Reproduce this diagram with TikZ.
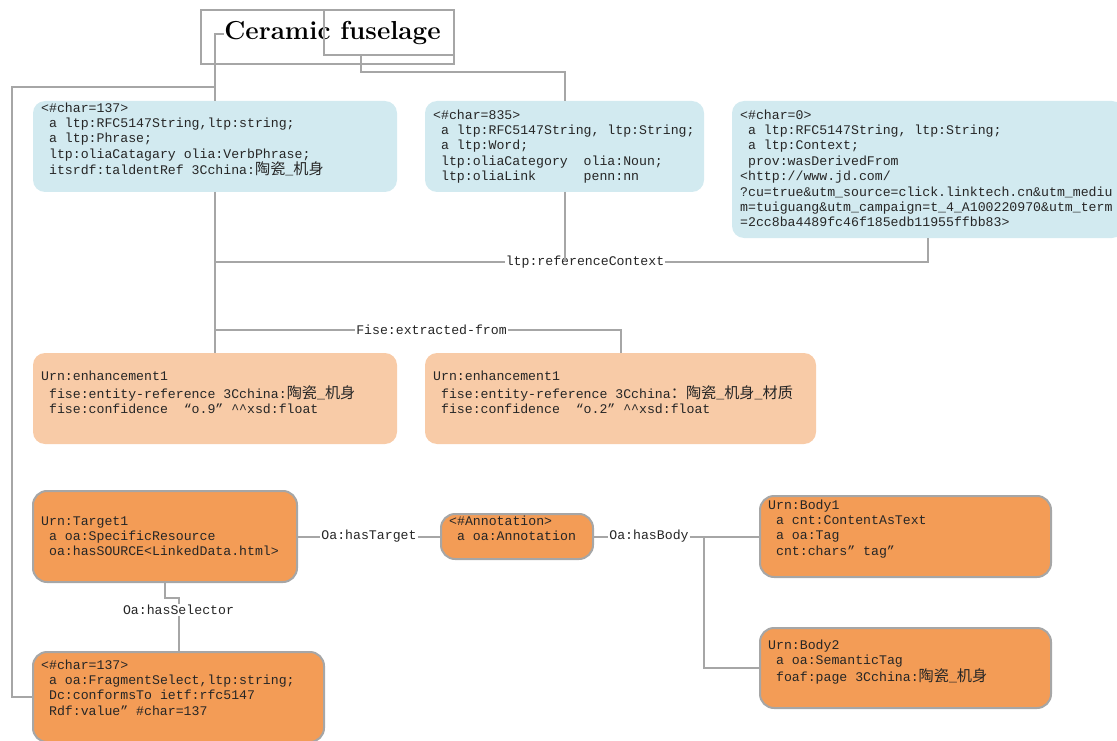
\documentclass[tikz,border=0pt]{standalone}
\usepackage{fontspec}
\newfontfamily\mono{Liberation Mono}
\newfontfamily\cjk{Noto Sans CJK SC}[Scale=1.15]
\definecolor{linegray}{HTML}{A6A6A6}
\definecolor{ctxblue}{HTML}{D2EAF0}
\definecolor{enhpeach}{HTML}{F8CBA7}
\definecolor{annorange}{HTML}{F39C56}
\definecolor{ink}{HTML}{262626}
% one blank cell of the monospaced font, and full-width quote marks
\newcommand\ind{\hbox to 0.6em{}}
\newcommand\oq{\hbox to 1.2em{\hfil “}}
\newcommand\cq{\hbox to 1.2em{”\hfil}}
\newcommand\zh[1]{{\cjk #1}}
\begin{document}
\begin{tikzpicture}[x=1pt,y=-1pt,
  conn/.style={draw=linegray, line width=2pt},
  frame/.style={draw=linegray, line width=2pt, anchor=north west, inner sep=0pt, outer sep=0pt},
  boxbase/.style={anchor=north west, inner sep=0pt, outer sep=0pt},
  ctx/.style={boxbase, fill=ctxblue, rounded corners=12pt},
  enh/.style={boxbase, fill=enhpeach, rounded corners=12pt},
  ann/.style={boxbase, fill=annorange, draw=linegray, line width=2pt, rounded corners=14pt},
  body/.style={anchor=north west, inner sep=0pt, align=left, text=ink,
    font=\mono\fontsize{13.2}{15.4}\selectfont},
  rel/.style={fill=white, inner sep=1pt, text=ink,
    font=\mono\fontsize{13.2}{15.4}\selectfont},
]
\useasboundingbox (0,0) rectangle (1117,741);

% ---------- title ----------
\node[anchor=base, inner sep=0pt, text=black,
      font=\bfseries\fontsize{26}{31}\selectfont] (title) at (332.5,40) {Ceramic fuselage};
\node[frame, minimum width=253pt, minimum height=54pt] (frameA) at (201,10) {};
\node[frame, minimum width=130pt, minimum height=45pt] (frameB) at (324,10) {};

% ---------- context strings ----------
\node[ctx, minimum width=364pt, minimum height=91pt] (b1) at (33,101) {};
\node[body] (t1) at (41,101.2) {\strut<\#char=137>\\
\ind a ltp:RFC5147String,ltp:string;\\
\ind a ltp:Phrase;\\
\ind ltp:oliaCatagary olia:VerbPhrase;\\
\ind itsrdf:taldentRef 3Cchina:\zh{陶瓷}\_\zh{机身}};

\node[ctx, minimum width=279pt, minimum height=91pt] (b2) at (425,101) {};
\node[body] (t2) at (433,108.2) {\strut<\#char=835>\\
\ind a ltp:RFC5147String, ltp:String;\\
\ind a ltp:Word;\\
\ind ltp:oliaCategory~~olia:Noun;\\
\ind ltp:oliaLink~~~~~~penn:nn};

\node[ctx, minimum width=392pt, minimum height=137pt] (b3) at (732,101) {};
\node[body] (t3) at (740,108.2) {\strut<\#char=0>\\
\ind a ltp:RFC5147String, ltp:String;\\
\ind a ltp:Context;\\
\ind prov:wasDerivedFrom\\
<http://www.jd.com/\\
?cu=true\&utm\_source=click.linktech.cn\&utm\_mediu\\
m=tuiguang\&utm\_campaign=t\_4\_A100220970\&utm\_term\\
=2cc8ba4489fc46f185edb11955ffbb83>};

% ---------- enhancements ----------
\node[enh, minimum width=364pt, minimum height=91pt] (e1) at (33,353) {};
\node[body] (te1) at (41,369.2) {\strut Urn:enhancement1\\
\ind fise:entity-reference 3Cchina:\zh{陶瓷}\_\zh{机身}\\
\ind fise:confidence \oq o.9\cq\textasciicircum\textasciicircum xsd:float};

\node[enh, minimum width=391pt, minimum height=91pt] (e2) at (425,353) {};
\node[body] (te2) at (433,369.2) {\strut Urn:enhancement1\\
\ind fise:entity-reference 3Cchina\zh{：陶瓷}\_\zh{机身}\_\zh{材质}\\
\ind fise:confidence \oq o.2\cq\textasciicircum\textasciicircum xsd:float};

% ---------- annotation ----------
\node[ann, minimum width=264pt, minimum height=91pt] (tg) at (33,491) {};
\node[body] (ttg) at (41,514.2) {\strut Urn:Target1\\
\ind a oa:SpecificResource\\
\ind oa:hasSOURCE<LinkedData.html>};

\node[ann, minimum width=152pt, minimum height=45pt] (an) at (441,514) {};
\node[body] (tan) at (449,514.2) {\strut<\#Annotation>\\
\ind a oa:Annotation};

\node[ann, minimum width=291pt, minimum height=81pt] (bd1) at (760,496) {};
\node[body] (tbd1) at (768,498.2) {\strut Urn:Body1\\
\ind a cnt:ContentAsText\\
\ind a oa:Tag\\
\ind cnt:chars\cq tag\cq};

\node[ann, minimum width=291pt, minimum height=80pt] (bd2) at (760,628) {};
\node[body] (tbd2) at (768,638.2) {\strut Urn:Body2\\
\ind a oa:SemanticTag\\
\ind foaf:page 3Cchina:\zh{陶瓷}\_\zh{机身}};

\node[ann, minimum width=291pt, minimum height=90pt] (sel) at (33,652) {};
\node[body] (tsel) at (41,658.2) {\strut<\#char=137>\\
\ind a oa:FragmentSelect,ltp:string;\\
\ind Dc:conformsTo ietf:rfc5147\\
\ind Rdf:value\cq\#char=137};

% ---------- connectors ----------
\coordinate (lk) at (12,87);
\coordinate (fk) at (361,72);
\draw[conn] (title.west) -| (b1.north);
\draw[conn] (b1.north |- lk) -- (lk) |- (sel.west);
\draw[conn] (frameB.south -| fk) -- (fk) -| (b2.north);

\draw[conn] (b1.south) -- (e1.north);
\node[rel] (rcl) at (585,262) {ltp:referenceContext};
\draw[conn] (b1.south |- rcl) -- (rcl.west);
\draw[conn] (rcl.east) -| (b3.south);
\draw[conn] (b2.south) -- (b2.south |- rcl);

\node[rel] (efl) at (431.5,330) {Fise:extracted-from};
\draw[conn] (b1.south |- efl) -- (efl.west);
\draw[conn] (efl.east) -| (e2.north);

\node[rel] (htl) at (369,536.5) {Oa:hasTarget};
\draw[conn] (tg.east) -- (tg.east -| htl.west);
\draw[conn] (htl.east |- an.west) -- (an.west);

\node[rel] (hbl) at (649,536.5) {Oa:hasBody};
\coordinate (bj) at (704,536.5);
\draw[conn] (an.east) -- (an.east -| hbl.west);
\draw[conn] (hbl.east |- bd1.west) -- (bd1.west);
\draw[conn] (bj) |- (bd2.west);

\coordinate (sk) at (178.5,598);
\node[rel] (hsl) at (sel.north |- 0,610) {Oa:hasSelector};
\draw[conn] (tg.south) |- (sk -| sel.north) -- (hsl.north);
\draw[conn] (hsl.south) -- (sel.north);
\end{tikzpicture}
\end{document}
